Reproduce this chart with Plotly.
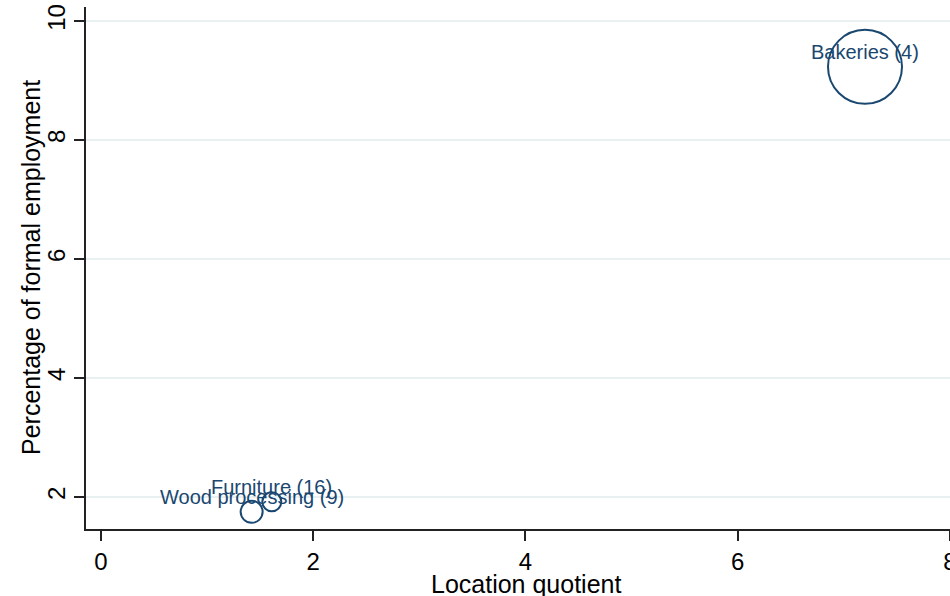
import plotly.graph_objects as go

# Data
industries = ["Bakeries", "Furniture", "Wood processing"]
firm_counts = [4, 16, 9]
location_quotient = [7.20, 1.61, 1.42]
pct_formal_employment = [9.23, 1.92, 1.75]
bubble_diameter = [74, 19, 22]

x_ticks = [0, 2, 4, 6, 8]
y_ticks = [2, 4, 6, 8, 10]

NAVY = "#1a476f"
FONT = "Liberation Sans, Arial, Helvetica, sans-serif"

labels = [f"{n} ({c})" for n, c in zip(industries, firm_counts)]

fig = go.Figure()
fig.add_trace(go.Scatter(
    x=location_quotient,
    y=pct_formal_employment,
    mode="markers",
    marker=dict(size=bubble_diameter, sizemode="diameter", opacity=1,
                color="rgba(0,0,0,0)",
                line=dict(color=NAVY, width=2)),
    hoverinfo="skip",
    showlegend=False,
    cliponaxis=False,
))

for xv, yv, lab in zip(location_quotient, pct_formal_employment, labels):
    fig.add_annotation(x=xv, y=yv, text=lab, showarrow=False,
                       yshift=15, font=dict(family=FONT, size=20, color=NAVY))

# axis titles as annotations for exact placement
fig.add_annotation(text="Percentage of formal employment", xref="paper", yref="paper",
                   x=0, y=0.5, xshift=-55, textangle=-90, showarrow=False,
                   xanchor="center", yanchor="middle",
                   font=dict(family=FONT, size=25, color="black"))
fig.add_annotation(text="Location quotient", xref="paper", yref="paper",
                   x=0.5, y=0, xshift=8, yshift=-55, showarrow=False,
                   xanchor="center", yanchor="middle",
                   font=dict(family=FONT, size=25, color="black"))

fig.update_layout(
    width=950, height=596,
    margin=dict(l=86, r=0, t=7, b=67),
    paper_bgcolor="white", plot_bgcolor="white",
    font=dict(family=FONT, color="black"),
    xaxis=dict(
        range=[-0.141, 8.001], tickvals=x_ticks,
        automargin=False,
        showgrid=False, zeroline=False,
        showline=True, linecolor="#222", linewidth=1.5,
        ticks="outside", ticklen=10, tickwidth=1.5, tickcolor="#222",
        ticklabeloverflow="allow",
        tickfont=dict(size=24, family=FONT),
    ),
    yaxis=dict(
        range=[1.462, 10.235], tickvals=y_ticks,
        automargin=False,
        showgrid=True, gridcolor="#e8f0f2", gridwidth=1.5,
        zeroline=False,
        showline=True, linecolor="#222", linewidth=1.5,
        ticks="outside", ticklen=10, tickwidth=1.5, tickcolor="#222",
        tickangle=-90,
        tickfont=dict(size=24, family=FONT),
    ),
)

fig.write_html(
    "out.html",
    config={"displayModeBar": False},
    post_script="document.body.style.margin='0';document.body.style.overflow='hidden';",
)
